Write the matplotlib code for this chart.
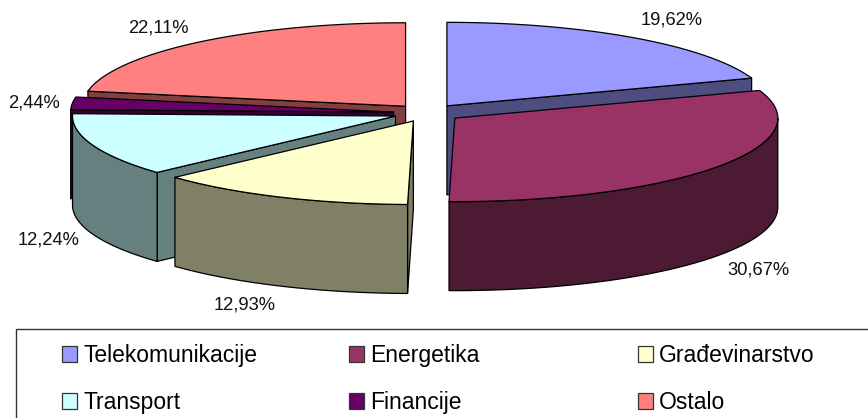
import matplotlib
matplotlib.use("Agg")
import matplotlib.pyplot as plt
from matplotlib.patches import Polygon, Rectangle
import numpy as np

names = ["Telekomunikacije", "Energetika", "Građevinarstvo", "Transport", "Financije", "Ostalo"]
values = [19.62, 30.67, 12.93, 12.24, 2.44, 22.11]
colors = ["#9999FF", "#993366", "#FFFFCC", "#CCFFFF", "#660066", "#FF8080"]
sides = ["#4D4D80", "#4D1A33", "#808066", "#668080", "#330033", "#804040"]
labels = ["19,62%", "30,67%", "12,93%", "12,24%", "2,44%", "22,11%"]

# pie geometry in pixels
cx, cy = 427.3, 113.0
a, b = 323.0, 83.5
depth = 89.0
explode = 0.105
draw_order = [0, 5, 4, 3, 2, 1]
label_pos = [(672, 20), (758, 270), (245, 305), (49, 240), (34, 103), (158, 28)]

plt.rcParams["font.family"] = ["Liberation Sans", "DejaVu Sans"]
fig = plt.figure(figsize=(8.68, 4.18), dpi=100)
ax = fig.add_axes([0, 0, 1, 1])
ax.set_xlim(0, 868)
ax.set_ylim(418, 0)
ax.axis("off")

fractions = np.array(values) / sum(values)
stops = np.concatenate([[0], np.cumsum(fractions)]) * 2 * np.pi


def rim(x0, y0, t):
    # t is clockwise from the top of the ellipse
    return x0 + a * np.sin(t), y0 - b * np.cos(t)


def face(pts, color):
    ax.add_patch(Polygon(pts, closed=True, facecolor=color, edgecolor="black", lw=0.9, joinstyle="round"))


for i in draw_order:
    t0, t1 = stops[i], stops[i + 1]
    mid = (t0 + t1) / 2
    x0 = cx + explode * a * np.sin(mid)
    y0 = cy - explode * b * np.cos(mid)

    # cut faces, only the ones turned towards the viewer
    for t, visible in [(t0, np.sin(t0) < 0), (t1, np.sin(t1) > 0)]:
        if visible:
            xr, yr = rim(x0, y0, t)
            face([(x0, y0), (xr, yr), (xr, yr + depth), (x0, y0 + depth)], sides[i])

    # outer wall, front half only
    lo, hi = max(t0, np.pi / 2), min(t1, 3 * np.pi / 2)
    if lo < hi:
        ts = np.linspace(lo, hi, 100)
        xs, ys = rim(x0, y0, ts)
        top = list(zip(xs, ys))
        bottom = list(zip(xs[::-1], ys[::-1] + depth))
        face(top + bottom, sides[i])

    ts = np.linspace(t0, t1, 200)
    xs, ys = rim(x0, y0, ts)
    face([(x0, y0)] + list(zip(xs, ys)), colors[i])

for (x, y), s in zip(label_pos, labels):
    ax.text(x, y, s, fontsize=13.2, color="#111111", ha="center", va="center")

# legend, its box runs off the right and bottom of the picture
ax.add_patch(Rectangle((16, 329), 900, 150, facecolor="white", edgecolor="#333333", lw=1.0))
key_x = [62, 349, 638]
key_y = [354, 401]
for i, name in enumerate(names):
    x = key_x[i % 3]
    y = key_y[i // 3]
    ax.add_patch(Rectangle((x, y - 8), 15, 15.5, facecolor=colors[i], edgecolor="#333333", lw=0.9))
    ax.text(x + 21, y + 8, name, fontsize=16.5, color="black", ha="left", va="baseline")

fig.savefig("out.png", dpi=100)
